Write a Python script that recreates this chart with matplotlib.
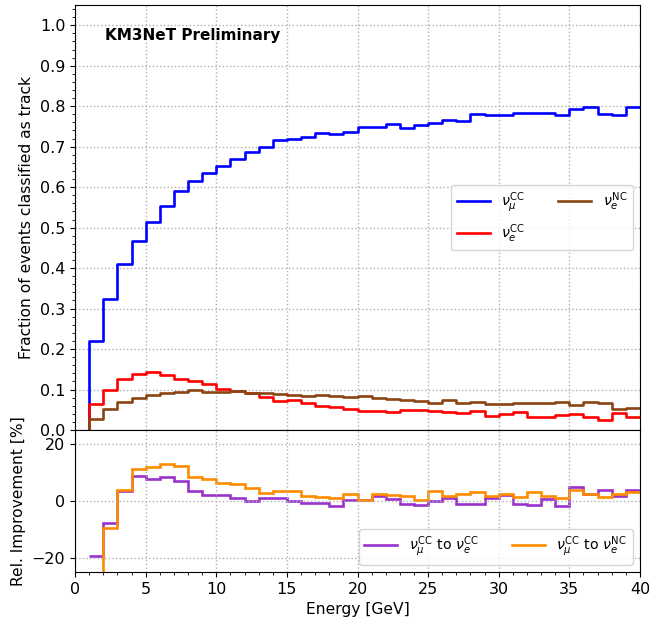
import numpy as np
import matplotlib
matplotlib.use("Agg")
import matplotlib.pyplot as plt
from matplotlib.ticker import MultipleLocator

# -------- data (1 GeV bins from 1 to 40 GeV) --------
edges = np.arange(1, 41)

numu_cc = [0.219, 0.324, 0.409, 0.466, 0.515, 0.554, 0.590, 0.615, 0.635, 0.652,
           0.669, 0.688, 0.699, 0.717, 0.718, 0.724, 0.734, 0.731, 0.737, 0.749,
           0.749, 0.756, 0.747, 0.753, 0.758, 0.766, 0.763, 0.780, 0.778, 0.778,
           0.783, 0.783, 0.782, 0.778, 0.792, 0.799, 0.781, 0.777, 0.797]
nue_cc = [0.065, 0.098, 0.127, 0.139, 0.143, 0.137, 0.127, 0.122, 0.114, 0.101,
          0.097, 0.091, 0.081, 0.072, 0.074, 0.066, 0.059, 0.057, 0.053, 0.048,
          0.048, 0.044, 0.049, 0.049, 0.048, 0.044, 0.042, 0.046, 0.035, 0.039,
          0.045, 0.032, 0.032, 0.037, 0.040, 0.033, 0.024, 0.042, 0.033]
nue_nc = [0.028, 0.051, 0.069, 0.080, 0.087, 0.092, 0.094, 0.099, 0.094, 0.093,
          0.097, 0.092, 0.091, 0.089, 0.087, 0.085, 0.087, 0.085, 0.081, 0.083,
          0.078, 0.077, 0.075, 0.072, 0.067, 0.075, 0.066, 0.068, 0.064, 0.065,
          0.066, 0.067, 0.067, 0.068, 0.062, 0.070, 0.067, 0.052, 0.055]

# relative improvement [%]
imp_vs_nue_cc = [-19.5, -7.8, 3.4, 8.7, 7.8, 8.3, 7.2, 3.5, 2.0, 2.0,
                 0.9, 0.1, 0.9, 1.2, 0.1, -0.8, -0.7, -1.6, 0.25, 0.25,
                 1.6, 0.7, -1.1, -1.4, -0.1, 1.1, -1.2, -1.0, 1.1, 2.2,
                 -0.9, -1.3, 0.7, -1.7, 5.0, 2.4, 3.7, 1.6, 3.9]
imp_vs_nue_nc = [-40.0, -9.4, 4.0, 11.2, 11.9, 12.9, 12.4, 8.4, 7.9, 6.4,
                 6.0, 4.6, 2.8, 3.6, 3.5, 1.8, 1.4, 1.2, 2.5, 0.5,
                 2.6, 2.1, 1.8, 0.2, 3.6, 1.9, 2.4, 3.3, 1.9, 2.4,
                 1.3, 3.0, 1.6, 1.2, 4.0, 2.4, 1.4, 2.6, 3.1]

TICK_FS = 11.5
LABEL_FS = 11.2
LEG_FS = 10.3


def step_from_zero(ax, vals, **kw):
    """histogram-like step that rises from 0 at the first edge, open at the end"""
    x = np.r_[edges[0], edges]
    y = np.r_[0.0, vals, vals[-1]]
    ax.plot(x, y, drawstyle="steps-post", **kw)


fig = plt.figure(figsize=(6.49, 6.23), dpi=100)
ax = fig.add_axes([0.1156, 0.3098, 0.8705, 0.6822])
axr = fig.add_axes([0.1156, 0.0819, 0.8705, 0.2279], sharex=ax)

# -------- top: fraction classified as track --------
step_from_zero(ax, numu_cc, color="blue", lw=1.9, label=r"$\nu_\mu^{\rm CC}$")
step_from_zero(ax, nue_cc, color="red", lw=1.9, label=r"$\nu_e^{\rm CC}$")
step_from_zero(ax, nue_nc, color="saddlebrown", lw=1.9, label=r"$\nu_e^{\rm NC}$")
ax.set_xlim(0, 40)
ax.set_ylim(0, 1.05)
ax.yaxis.set_major_locator(MultipleLocator(0.1))
ax.yaxis.set_minor_locator(MultipleLocator(0.02))
ax.xaxis.set_major_locator(MultipleLocator(5))
ax.grid(True, ls=":", color="#b0b0b0", lw=1)
ax.tick_params(axis="x", labelbottom=False, length=0)
ax.tick_params(axis="y", labelsize=TICK_FS)
ax.set_ylabel("Fraction of events classified as track", fontsize=LABEL_FS)
ax.text(0.053, 0.929, "KM3NeT Preliminary", transform=ax.transAxes,
        fontsize=11, fontweight="bold", va="center", ha="left")
ax.legend(loc="center right", ncol=2, fontsize=LEG_FS,
          handlelength=2.3, columnspacing=2.3)

# -------- bottom: relative improvement --------
axr.stairs(imp_vs_nue_cc, edges, baseline=None, color="darkorchid", lw=1.9,
           label=r"$\nu_\mu^{\rm CC}$ to $\nu_e^{\rm CC}$")
axr.stairs(imp_vs_nue_nc, edges, baseline=None, color="darkorange", lw=1.9,
           label=r"$\nu_\mu^{\rm CC}$ to $\nu_e^{\rm NC}$")
axr.set_ylim(-25, 25)
axr.yaxis.set_major_locator(MultipleLocator(20))
axr.xaxis.set_major_locator(MultipleLocator(5))
axr.xaxis.set_minor_locator(MultipleLocator(1))
axr.grid(True, ls=":", color="#b0b0b0", lw=1)
axr.tick_params(labelsize=TICK_FS)
axr.set_ylabel("Rel. Improvement [%]", fontsize=LABEL_FS)
axr.set_xlabel("Energy [GeV]", fontsize=LABEL_FS)
axr.legend(loc="lower right", ncol=2, fontsize=LEG_FS,
           handlelength=2.3, columnspacing=2.3)

fig.savefig("out.png", dpi=100)
